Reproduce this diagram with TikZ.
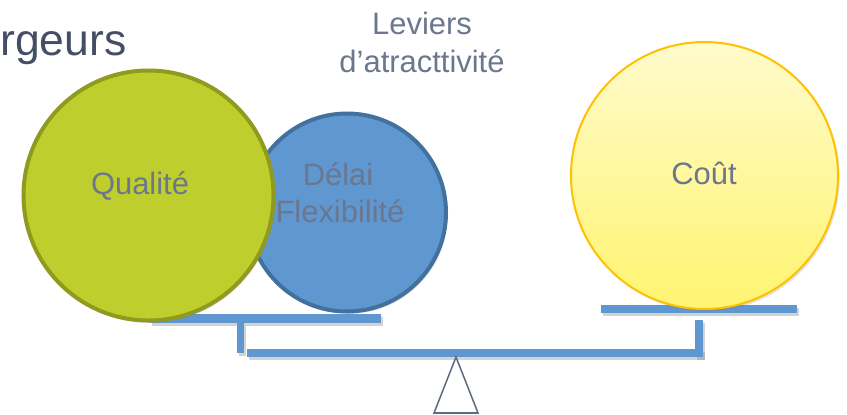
\documentclass[tikz,border=0pt]{standalone}
\usepackage{fontspec}
\setmainfont{Liberation Sans}
\usetikzlibrary{shapes.geometric, shadows}
\definecolor{txtgray}{RGB}{108,118,142}
\definecolor{titlegray}{RGB}{68,78,100}
\definecolor{barblue}{RGB}{95,151,208}
\definecolor{delaiblue}{RGB}{95,151,208}
\definecolor{delaiedge}{RGB}{65,113,156}
\definecolor{qualgreen}{RGB}{190,206,44}
\definecolor{qualedge}{RGB}{143,154,30}
\definecolor{couttop}{RGB}{255,251,204}
\definecolor{coutbottom}{RGB}{255,244,112}
\definecolor{coutedge}{RGB}{255,192,0}
\definecolor{pivotgray}{RGB}{95,107,128}
\tikzstyle{ball} = [circle, inner sep=0pt, drop shadow={opacity=0.22, shadow xshift=1.5pt, shadow yshift=-2pt}]
\tikzstyle{bar} = [fill=barblue, drop shadow={opacity=0.35, shadow xshift=1.5pt, shadow yshift=-2.5pt}]
\tikzstyle{txt} = [text=txtgray, inner sep=0pt, font=\fontsize{26.4}{33}\selectfont]
\tikzstyle{pivot} = [draw=pivotgray, fill=white, line width=1.3pt, line join=miter]

\begin{document}
\begin{tikzpicture}[x=0.03cm, y=-0.03cm]
        \useasboundingbox (0,0) rectangle (847,414);
        \node [anchor=base west, inner sep=0pt, text=titlegray, font=\fontsize{38}{44}\selectfont] at (0,55) (titre) {rgeurs};
        \node [txt, align=center, anchor=north] at (422,11.5) (leviers) {Leviers\\d’atracttivité};
        \fill [bar] (150,314) rectangle (381,323);
        \fill [bar] (237,323) rectangle (244,353);
        \fill [bar] (247,349) rectangle (703,357);
        \fill [bar] (695,320) rectangle (703,357);
        \fill [bar] (601,305) rectangle (797,313);
        \draw [pivot] (456,357) -- (434,413) -- (478,413) -- cycle;
        \node [ball, fill=delaiblue, draw=delaiedge, line width=0.12cm, minimum size=5.94cm] at (347,212.5) (delai) {};
        \node [txt, anchor=base] at (338,185) (delaitxt) {Délai};
        \node [txt, anchor=base] at (340,222) (flextxt) {Flexibilité};
        \node [ball, fill=qualgreen, draw=qualedge, line width=0.12cm, minimum size=7.5cm] at (148.5,195.5) (qualite) {};
        \node [txt, anchor=base] at (140,194) (qualtxt) {Qualité};
        \node [ball, top color=couttop, bottom color=coutbottom, draw=coutedge, line width=0.06cm, minimum size=8.01cm] at (704.5,175.5) (cout) {};
        \node [txt, anchor=base] at (704,184) (couttxt) {Coût};
\end{tikzpicture}
\end{document}
